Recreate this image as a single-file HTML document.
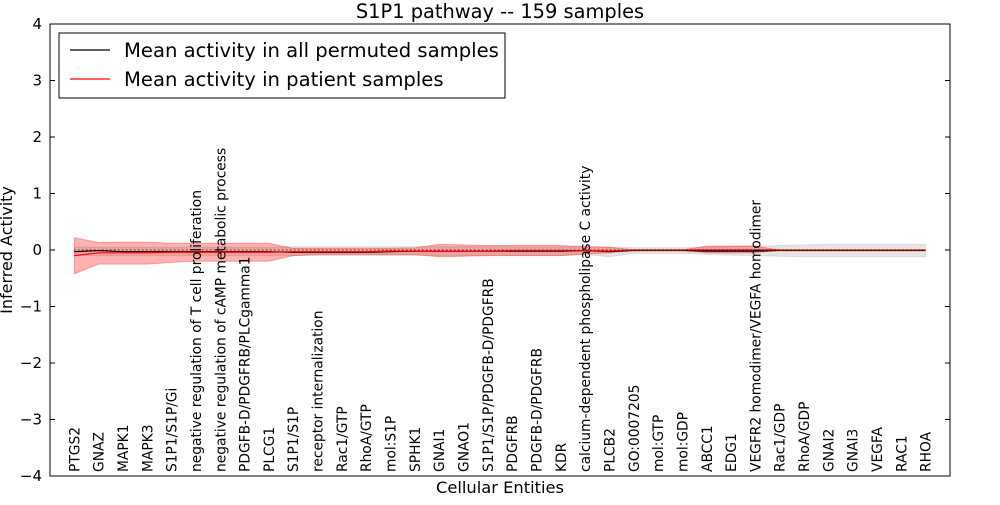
<!DOCTYPE html>
<html><head><meta charset="utf-8"><style>
body{margin:0;background:#fff;font-family:"Liberation Sans","DejaVu Sans",sans-serif}
svg text{font-family:"DejaVu Sans","Liberation Sans",sans-serif}
</style></head><body>
<svg id="c" width="1000" height="500"></svg>
<script>
const categories=["PTGS2","GNAZ","MAPK1","MAPK3","S1P1/S1P/Gi","negative regulation of T cell proliferation","negative regulation of cAMP metabolic process","PDGFB-D/PDGFRB/PLCgamma1","PLCG1","S1P1/S1P","receptor internalization","Rac1/GTP","RhoA/GTP","mol:S1P","SPHK1","GNAI1","GNAO1","S1P1/S1P/PDGFB-D/PDGFRB","PDGFRB","PDGFB-D/PDGFRB","KDR","calcium-dependent phospholipase C activity","PLCB2","GO:0007205","mol:GTP","mol:GDP","ABCC1","EDG1","VEGFR2 homodimer/VEGFA homodimer","Rac1/GDP","RhoA/GDP","GNAI2","GNAI3","VEGFA","RAC1","RHOA"];
const redMean=[-0.1,-0.05,-0.05,-0.05,-0.04,-0.04,-0.04,-0.04,-0.04,-0.03,-0.03,-0.03,-0.03,-0.02,-0.02,-0.02,-0.02,-0.02,-0.01,-0.01,-0.01,-0.01,-0.02,0,0,0,0,0,0,0,0,0,0,0,0,0];
const redUp=[0.22,0.13,0.14,0.14,0.12,0.12,0.12,0.12,0.12,0.03,0.03,0.03,0.03,0.03,0.04,0.1,0.09,0.08,0.08,0.08,0.08,0.06,0.05,0,0,0,0.07,0.07,0.07,0,0,0,0,0,0,0];
const redLo=[-0.42,-0.25,-0.25,-0.25,-0.22,-0.2,-0.2,-0.2,-0.2,-0.1,-0.08,-0.08,-0.08,-0.08,-0.08,-0.12,-0.11,-0.1,-0.1,-0.1,-0.1,-0.07,-0.05,0,0,0,-0.05,-0.05,-0.05,0,0,0,0,0,0,0];
const greyMean=[-0.03,-0.01,-0.03,-0.03,-0.03,-0.03,-0.03,-0.03,-0.03,-0.04,-0.04,-0.04,-0.04,-0.03,-0.02,-0.02,-0.02,-0.02,-0.02,-0.02,-0.02,-0.01,-0.03,-0.01,-0.01,-0.01,-0.02,-0.02,-0.02,-0.01,-0.01,-0.01,-0.01,-0.01,-0.01,-0.01];
const greyUp=[0.05,0.05,0.05,0.05,0.05,0.05,0.05,0.05,0.05,0.06,0.06,0.06,0.06,0.06,0.06,0.06,0.06,0.06,0.06,0.06,0.06,0.06,0.05,0.04,0.04,0.04,0.05,0.06,0.07,0.08,0.09,0.1,0.1,0.1,0.1,0.1];
const greyLo=[-0.1,-0.1,-0.1,-0.1,-0.1,-0.1,-0.1,-0.1,-0.1,-0.1,-0.1,-0.1,-0.1,-0.1,-0.1,-0.1,-0.1,-0.1,-0.1,-0.1,-0.1,-0.08,-0.12,-0.06,-0.06,-0.06,-0.08,-0.09,-0.1,-0.11,-0.12,-0.12,-0.12,-0.12,-0.12,-0.12];
const yTicks=[-4,-3,-2,-1,0,1,2,3,4];
const NS="http://www.w3.org/2000/svg",svg=document.getElementById('c');
const L=50,R=950,T=24,B=476,n=categories.length;
const X=i=>L+(i+1)*(R-L)/(n+1);
const Y=v=>T+(4-v)*(B-T)/8;
function el(t,a,p){const e=document.createElementNS(NS,t);for(const k in a)e.setAttribute(k,a[k]);(p||svg).appendChild(e);return e;}
function band(up,lo,fill,op,name){let d='M'+up.map((v,i)=>X(i)+','+Y(v)).join('L')+'L'+lo.map((v,i)=>[i,v]).reverse().map(([i,v])=>X(i)+','+Y(v)).join('L')+'Z';
const p=el('path',{d,fill,'fill-opacity':op,stroke:fill,'stroke-opacity':op});

}
function line(vals,col,name){const p=el('path',{d:'M'+vals.map((v,i)=>X(i)+','+Y(v)).join('L'),fill:'none',stroke:col,'stroke-width':1.2});

}
band(greyUp,greyLo,'#aaaaaa',0.3,'permuted-band');
band(redUp,redLo,'#ff0000',0.3,'patient-band');
line(greyMean,'#000','permuted-mean-line');
line(redMean,'#ff0000','patient-mean-line');
const z=el('line',{x1:X(0),x2:X(n-1),y1:Y(0),y2:Y(0),stroke:'#000','stroke-dasharray':'1,3'});


const fr=el('rect',{x:L,y:T,width:R-L,height:B-T,fill:'none',stroke:'#000'});


yTicks.forEach(v=>{el('line',{x1:L,x2:L+5,y1:Y(v),y2:Y(v),stroke:'#000'});el('line',{x1:R,x2:R-5,y1:Y(v),y2:Y(v),stroke:'#000'});
const t=el('text',{x:L-8,y:Y(v)+5,'text-anchor':'end','font-size':15});t.textContent=(v<0?'\u2212'+(-v):v);

});
categories.forEach((c,i)=>{const x=X(i);
const t=el('text',{transform:`translate(${x+5},472) rotate(-90)`,'font-size':13.8});t.textContent=c;

});
let t=el('text',{x:500,y:18,'text-anchor':'middle','font-size':19.4});t.textContent='S1P1 pathway -- 159 samples';

t=el('text',{x:500,y:493,'text-anchor':'middle','font-size':16.3});t.textContent='Cellular Entities';

t=el('text',{transform:'translate(12,250) rotate(-90)','text-anchor':'middle','font-size':16});t.textContent='Inferred Activity';

const lg=el('g',{});

el('rect',{x:59,y:33,width:446,height:65,fill:'#fff',stroke:'#000'},lg);
el('line',{x1:70,x2:110,y1:50,y2:50,stroke:'#000','stroke-width':1.2},lg);
el('line',{x1:70,x2:110,y1:79,y2:79,stroke:'#ff0000','stroke-width':1.2},lg);
t=el('text',{x:124,y:57,'font-size':19.6},lg);t.textContent='Mean activity in all permuted samples';

t=el('text',{x:124,y:86,'font-size':19.6},lg);t.textContent='Mean activity in patient samples';

</script></body></html>
